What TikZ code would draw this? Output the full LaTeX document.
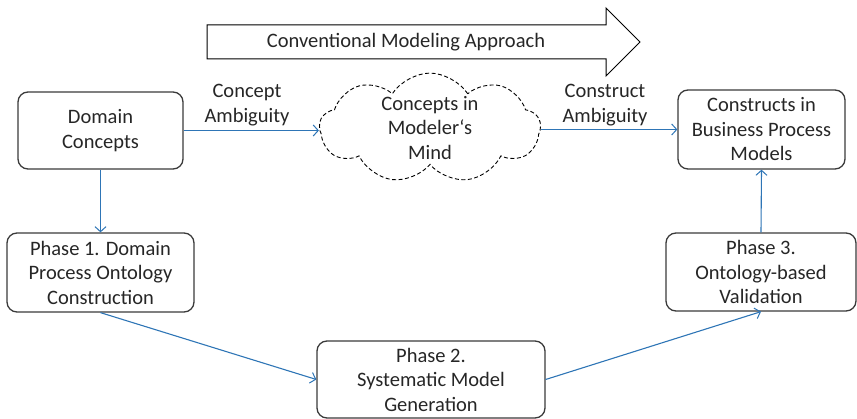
\documentclass[tikz,border=0pt]{standalone}
\usepackage{fontspec}
\setmainfont{Carlito}
\usetikzlibrary{shapes.symbols,arrows.meta}
\definecolor{txtgray}{HTML}{262626}
\definecolor{boxgray}{HTML}{3A3A3A}
\definecolor{arrblue}{HTML}{2E75B6}
\tikzset{
  txtfont/.style={font=\fontsize{20.5}{24.5}\selectfont},
  box/.style={draw=boxgray, line width=1.3pt, rounded corners=10pt, inner sep=0pt,
    align=center, text=txtgray, txtfont},
  lbl/.style={inner sep=0pt, align=center, text=txtgray, txtfont},
  conn/.style={draw=arrblue, line width=1.1pt, -{Straight Barb[length=5pt,width=11pt,line width=1pt]}},
}
\begin{document}
\begin{tikzpicture}[x=1pt,y=-1pt]
\useasboundingbox (0,0) rectangle (857,419);
% top block arrow
\draw[draw=black, line width=1pt, line join=miter, fill=white]
  (207,25) -- (606,25) -- (606,8) -- (640,42) -- (606,76) -- (606,59) -- (207,59) -- cycle;
\node[lbl] (approach) at (406,42) {Conventional Modeling Approach};
% boxes
\node[box, minimum width=165pt, minimum height=77pt] (dom) at (100.5,130.5) {Domain\\Concepts};
\node[box, minimum width=187pt, minimum height=79pt] (p1) at (100.5,272.5) {Phase 1. Domain\\Process Ontology\\Construction};
\node[box, minimum width=167pt, minimum height=79pt] (cons) at (761.5,129.5) {Constructs in\\Business Process\\Models};
\node[box, minimum width=190pt, minimum height=78pt] (p3) at (761,272) {Phase 3.\\Ontology-based\\Validation};
\node[box, minimum width=228pt, minimum height=77pt] (p2) at (431,379.5) {Phase 2.\\Systematic Model\\Generation};
% cloud
\node[cloud, cloud puffs=9, cloud puff arc=115, cloud ignores aspect, draw=black,
  dash pattern=on 4pt off 2.5pt,
  line width=0.9pt, minimum width=221pt, minimum height=106pt, inner sep=0pt,
  align=center, text=txtgray, txtfont] (cloud) at (430,128)
  {Concepts in\\Modeler\textquoteleft s\\Mind};
% labels
\node[lbl] (amb1) at (247,105) {Concept\\Ambiguity};
\node[lbl] (amb2) at (605,105) {Construct\\Ambiguity};
% connectors
\draw[conn] (dom.east) -- (dom.east -| cloud.west);
\draw[conn] (cloud.east |- cons.west) -- (cons.west);
\draw[conn] (dom.south) -- (p1.north);
\draw[conn] (p1.south) -- (p2.west);
\draw[conn] (p2.east) -- (p3.south);
\draw[conn] (p3.north) -- (cons.south);
\end{tikzpicture}
\end{document}
